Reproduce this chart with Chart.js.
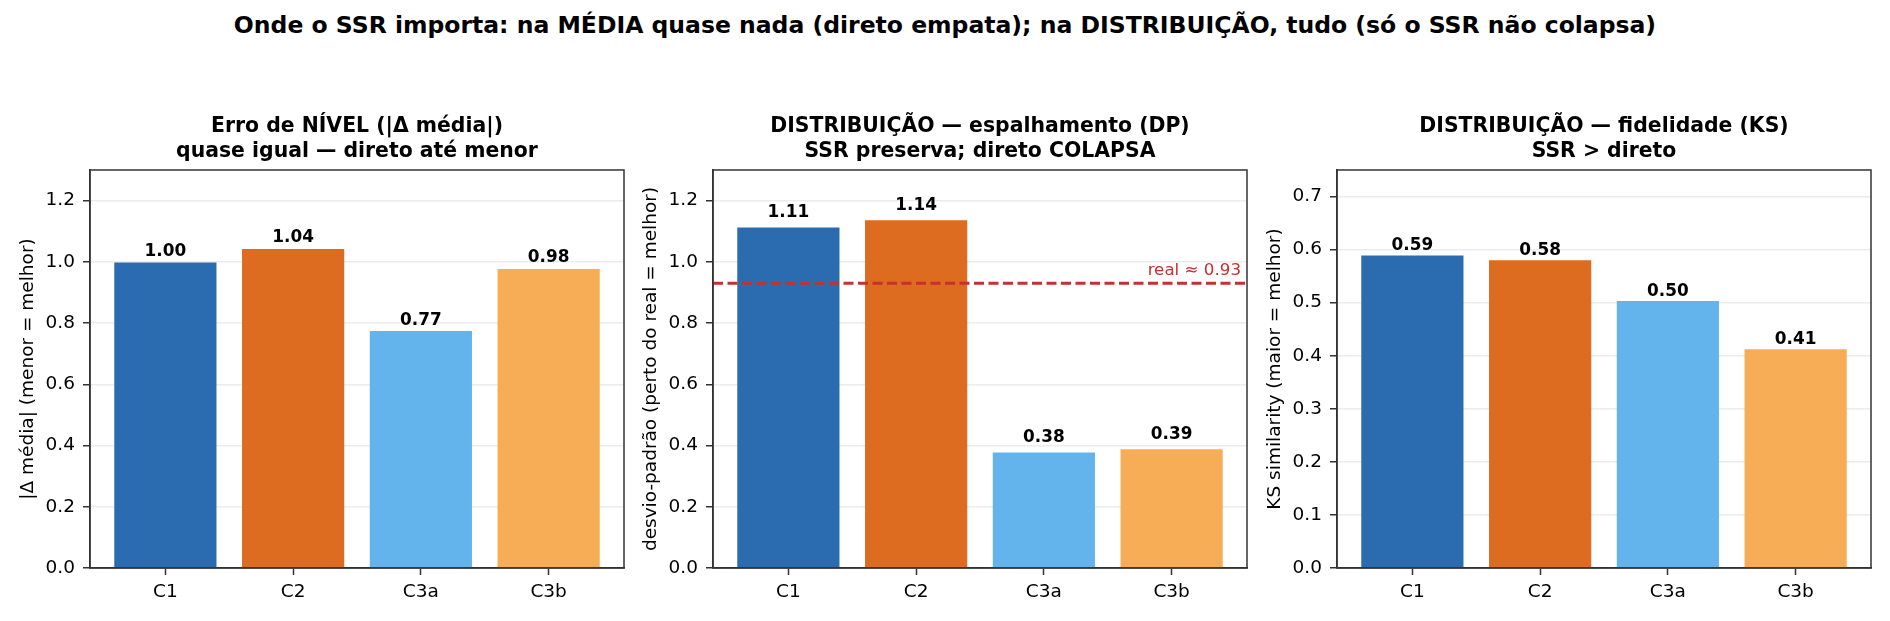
<!DOCTYPE html>
<html>
<head>
<meta charset="utf-8">
<script src="https://cdn.jsdelivr.net/npm/chart.js@4.4.1/dist/chart.umd.min.js"></script>
<style>
  body { margin: 0; background: #fff; width: 1890px; height: 621px; position: relative; overflow: hidden; }
  #suptitle { position: absolute; left: 0; top: 10px; width: 1890px; height: 30px; line-height: 30px;
    text-align: center; font-family: "DejaVu Sans"; font-weight: bold; font-size: 23.5px; color: #000; }
  canvas { position: absolute; top: 100px; }
</style>
</head>
<body>
<div id="suptitle">Onde o SSR importa: na MÉDIA quase nada (direto empata); na DISTRIBUIÇÃO, tudo (só o SSR não colapsa)</div>
<canvas id="nivelChart" width="634" height="521" style="left:0px"></canvas>
<canvas id="dpChart" width="634" height="521" style="left:623px"></canvas>
<canvas id="ksChart" width="634" height="521" style="left:1247px"></canvas>
<script>
// dados
var categories = ['C1', 'C2', 'C3a', 'C3b'];
var barColors = ['#2b6cb0', '#dd6b20', '#63b3ed', '#f6ad55'];

var nivelErro = [0.998, 1.042, 0.774, 0.977];
var desvioPadrao = [1.112, 1.136, 0.377, 0.388];
var ksSimilarity = [0.589, 0.580, 0.503, 0.412];
var desvioReal = 0.93;

var ticksNivel = [0, 0.2, 0.4, 0.6, 0.8, 1.0, 1.2];
var ticksDP = [0, 0.2, 0.4, 0.6, 0.8, 1.0, 1.2];
var ticksKS = [0, 0.1, 0.2, 0.3, 0.4, 0.5, 0.6, 0.7];

var FONT = 'DejaVu Sans';
Chart.defaults.color = '#000';
Chart.defaults.font.family = FONT;

// rotulo em cima de cada barra (gap em px acima da barra)
function barLabels(gap) {
  return {
    id: 'barLabels',
    afterDatasetsDraw: function(chart) {
      var ctx = chart.ctx;
      var meta = chart.getDatasetMeta(0);
      var data = chart.data.datasets[0].data;
      ctx.save();
      ctx.font = 'bold 16.9px "' + FONT + '"';
      ctx.fillStyle = '#000';
      ctx.textAlign = 'center';
      ctx.textBaseline = 'alphabetic';
      meta.data.forEach(function(bar, i) {
        ctx.fillText(data[i].y.toFixed(2), bar.x, bar.y - gap);
      });
      ctx.restore();
    }
  };
}

// moldura dos 4 lados
var frame = {
  id: 'frame',
  afterDraw: function(chart) {
    var a = chart.chartArea;
    var ctx = chart.ctx;
    ctx.save();
    ctx.strokeStyle = '#333';
    ctx.lineWidth = 1.5;
    ctx.strokeRect(a.left, a.top, a.right - a.left, a.bottom - a.top);
    ctx.restore();
  }
};

// linha tracejada do valor real
var refLine = {
  id: 'refLine',
  afterDatasetsDraw: function(chart) {
    var a = chart.chartArea;
    var y = chart.scales.y.getPixelForValue(desvioReal);
    var ctx = chart.ctx;
    ctx.save();
    ctx.strokeStyle = '#c53030';
    ctx.lineWidth = 2.8;
    ctx.setLineDash([10, 4.5]);
    ctx.beginPath();
    ctx.moveTo(a.left, y);
    ctx.lineTo(a.right, y);
    ctx.stroke();
    ctx.setLineDash([]);
    ctx.font = '16.7px "' + FONT + '"';
    ctx.fillStyle = '#c53030';
    ctx.textAlign = 'right';
    ctx.textBaseline = 'alphabetic';
    ctx.fillText('real \u2248 ' + desvioReal.toFixed(2), a.right - 6, y - 8.5);
    ctx.restore();
  }
};

function makeChart(id, values, yMax, yTicks, titleLines, yTitle, labelGap, extraPlugins) {
  var points = values.map(function(v, i) { return {x: i, y: v}; });
  return new Chart(document.getElementById(id), {
    type: 'bar',
    data: {
      datasets: [{
        data: points,
        backgroundColor: barColors,
        borderWidth: 0,
        barPercentage: 0.8,
        categoryPercentage: 1.0
      }]
    },
    options: {
      responsive: false,
      animation: false,
      devicePixelRatio: 1,
      layout: { padding: { left: 0, right: 10, top: 0, bottom: 0 } },
      plugins: {
        legend: { display: false },
        tooltip: { enabled: false },
        title: {
          display: true,
          text: titleLines,
          fullSize: false,
          color: '#000',
          font: { family: FONT, size: 20.4, weight: 'bold', lineHeight: 1.24 },
          padding: { top: 14, bottom: 5.4 }
        }
      },
      scales: {
        x: {
          type: 'linear',
          min: -0.59,
          max: 3.59,
          offset: false,
          afterBuildTicks: function(scale) {
            scale.ticks = categories.map(function(c, i) { return {value: i}; });
          },
          afterFit: function(scale) { scale.height = 53; },
          ticks: {
            autoSkip: false,
            maxRotation: 0,
            padding: 6,
            color: '#000',
            font: { family: FONT, size: 18.5 },
            callback: function(v) { return categories[v]; }
          },
          grid: { offset: false, drawOnChartArea: false, tickColor: '#333', tickLength: 7, tickWidth: 1.5 },
          border: { display: true, color: '#333', width: 1.5 }
        },
        y: {
          min: 0,
          max: yMax,
          afterBuildTicks: function(scale) {
            scale.ticks = yTicks.map(function(v) { return {value: v}; });
          },
          afterFit: function(scale) { scale.width = 90; },
          ticks: {
            padding: 8,
            color: '#000',
            font: { family: FONT, size: 18.5 },
            callback: function(v) { return v.toFixed(1); }
          },
          grid: { color: '#ececec', lineWidth: 1.5, tickColor: '#333', tickLength: 7, tickWidth: 1.5 },
          border: { display: true, color: '#333', width: 1.5 },
          title: {
            display: true,
            text: yTitle,
            color: '#000',
            font: { family: FONT, size: 18.5, lineHeight: 1.2 },
            padding: { top: 17.4, bottom: 0 }
          }
        }
      }
    },
    plugins: [barLabels(labelGap), frame].concat(extraPlugins || [])
  });
}

makeChart('nivelChart', nivelErro, 1.3, ticksNivel,
  ['Erro de NÍVEL (|\u0394 média|)', 'quase igual \u2014 direto até menor'],
  '|\u0394 média| (menor = melhor)', 6.5);

makeChart('dpChart', desvioPadrao, 1.3, ticksDP,
  ['DISTRIBUIÇÃO \u2014 espalhamento (DP)', 'SSR preserva; direto COLAPSA'],
  'desvio-padrão (perto do real = melhor)', 10.5, [refLine]);

makeChart('ksChart', ksSimilarity, 0.75, ticksKS,
  ['DISTRIBUIÇÃO \u2014 fidelidade (KS)', 'SSR > direto'],
  'KS similarity (maior = melhor)', 5);
</script>
</body>
</html>
